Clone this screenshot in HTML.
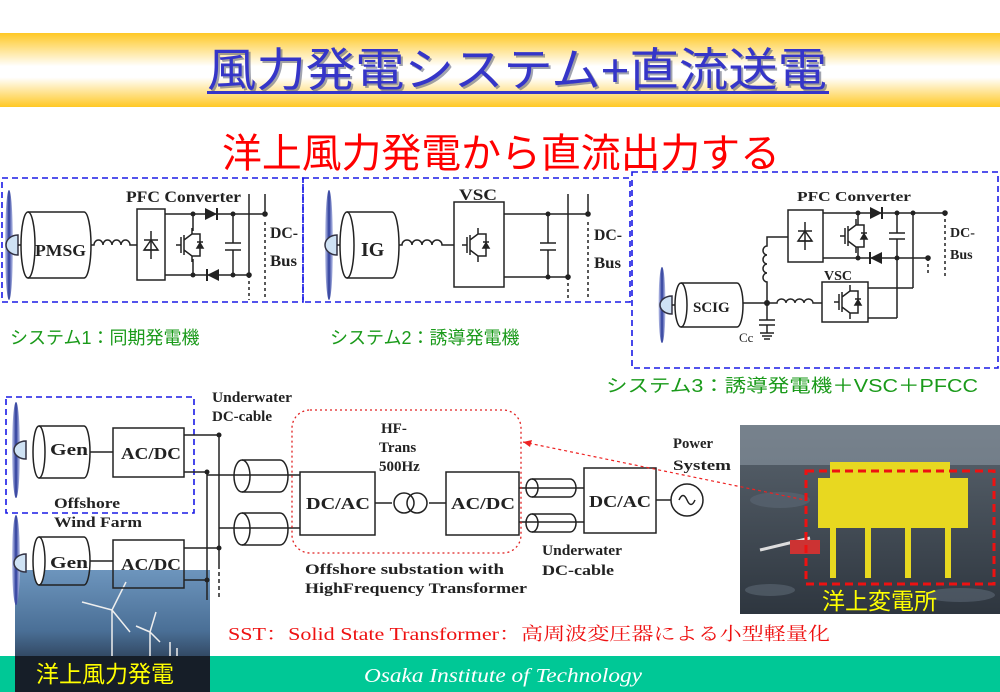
<!DOCTYPE html>
<html><head><meta charset="utf-8"><style>
html,body{margin:0;padding:0;background:#fff;}
svg{display:block;}
.s{font-family:"Liberation Serif",serif;font-weight:bold;fill:#222;}
.j{font-family:"Liberation Sans","Noto Sans CJK JP",sans-serif;}
</style></head><body>
<svg width="1000" height="692" viewBox="0 0 1000 692" xmlns="http://www.w3.org/2000/svg">
<defs>
<linearGradient id="hdr" x1="0" y1="0" x2="0" y2="1">
<stop offset="0" stop-color="#ffc824"/><stop offset="0.45" stop-color="#ffffff"/><stop offset="0.6" stop-color="#ffffff"/><stop offset="1" stop-color="#ffc824"/></linearGradient>
<linearGradient id="blade" x1="0" y1="0" x2="1" y2="0">
<stop offset="0" stop-color="#c8cff0"/><stop offset="0.5" stop-color="#2a3a9a"/><stop offset="1" stop-color="#c8cff0"/></linearGradient>
<linearGradient id="lp" x1="0" y1="0" x2="0" y2="1">
<stop offset="0" stop-color="#6d95bd"/><stop offset="0.5" stop-color="#4a6f96"/><stop offset="0.75" stop-color="#2e425a"/><stop offset="1" stop-color="#151d28"/></linearGradient>
<linearGradient id="rp" x1="0" y1="0" x2="0" y2="1">
<stop offset="0" stop-color="#5a646e"/><stop offset="1" stop-color="#2e363f"/></linearGradient>
<g id="igbt" fill="none" stroke="#222" stroke-width="1.5">
<path d="M-12 0h5M-7-8v16M-4-10v20M-4-5l8-6v-6M-4 5l8 6v6M4-11h8v22h-8"/>
<path d="M9 3h6l-3-5z" fill="#222"/><path d="M9-3h6"/>
</g>
<g id="dr"><path d="M-6-6L6 0L-6 6Z" fill="#222"/><path d="M6-6v12" stroke="#222" stroke-width="2"/></g>
<g id="dl"><path d="M6-6L-6 0L6 6Z" fill="#222"/><path d="M-6-6v12" stroke="#222" stroke-width="2"/></g>
<g id="rect"><path d="M0-14v28M-7 5h14M-7 -5h14" stroke="#222" stroke-width="1.5"/><path d="M-7 5L0-5L7 5Z" fill="none" stroke="#222" stroke-width="1.5"/></g>
</defs>

<rect x="0" y="33" width="1000" height="74" fill="url(#hdr)"/>
<text x="209" y="88" font-size="46" fill="#555a70" class="j" textLength="620" lengthAdjust="spacingAndGlyphs" opacity="0.55">風力発電システム+直流送電</text>
<text x="207" y="86" font-size="46" fill="#3535c8" class="j" textLength="620" lengthAdjust="spacingAndGlyphs">風力発電システム+直流送電</text>
<rect x="207" y="91" width="622" height="3" fill="#3535c8"/>

<text x="222" y="167" font-size="40" fill="#ff0000" class="j" textLength="558" lengthAdjust="spacingAndGlyphs">洋上風力発電から直流出力する</text>

<g fill="none" stroke="#1a1ae6" stroke-width="1.6" stroke-dasharray="6,4">
<rect x="2" y="178" width="301" height="124"/>
<rect x="303" y="178" width="327" height="124"/>
<rect x="632" y="172" width="366" height="196"/>
<rect x="6" y="397" width="188" height="116"/>
</g>

<g stroke="#222" stroke-width="1.5" fill="none">
<ellipse cx="9" cy="245" rx="4" ry="55" fill="url(#blade)" stroke="none"/>
<path d="M18 235a12 10 0 0 0 0 20z" fill="#cfe2f4" stroke="#334"/>
<path d="M18 245h10"/>
<ellipse cx="28" cy="245" rx="7" ry="33" fill="#fff"/>
<path d="M28 212H84A7 33 0 0 1 84 278H28"/>
<path d="M91 245h3a4.5 5 0 0 1 9 0a4.5 5 0 0 1 9 0a4.5 5 0 0 1 9 0a4.5 5 0 0 1 9 0h7"/>
<rect x="137" y="209" width="28" height="71"/>
<path d="M165 214H265M165 275H249M193 214v17M193 259v16M233 214v29M225 243h16M225 250h16M233 250v25M249 194v81M265 194v20"/>
<path d="M249 275v25M265 222v78" stroke-dasharray="3,3"/>
<ellipse cx="329" cy="245" rx="4" ry="55" fill="url(#blade)" stroke="none"/>
<path d="M337 235a12 10 0 0 0 0 20z" fill="#cfe2f4" stroke="#334"/>
<path d="M337 245h6"/>
<ellipse cx="347" cy="245" rx="7" ry="33" fill="#fff"/>
<path d="M347 212H392A7 33 0 0 1 392 278H347"/>
<path d="M399 245h3a5 5 0 0 1 10 0a5 5 0 0 1 10 0a5 5 0 0 1 10 0a5 5 0 0 1 10 0h12"/>
<rect x="454" y="202" width="50" height="85"/>
<path d="M504 214H588M504 277H568M548 214v29M540 243h16M540 250h16M548 250v27M568 194v83M588 194v20"/>
<path d="M568 277v23M588 222v78" stroke-dasharray="3,3"/>
<ellipse cx="662" cy="305" rx="3.5" ry="38" fill="url(#blade)" stroke="none"/>
<path d="M672 296a12 9 0 0 0 0 18z" fill="#cfe2f4" stroke="#334"/>
<path d="M672 305h8"/>
<ellipse cx="681" cy="305" rx="6" ry="22" fill="#fff"/>
<path d="M681 283H737A6 22 0 0 1 737 327H681"/>
<path d="M743 303H767M767 303V282a4 4.5 0 0 1 0-9a4 4.5 0 0 1 0-9a4 4.5 0 0 1 0-9a4 4.5 0 0 1 0-9V237H788"/>
<path d="M767 303h10a4.5 4 0 0 1 9 0a4.5 4 0 0 1 9 0a4.5 4 0 0 1 9 0a4.5 4 0 0 1 9 0h9"/>
<path d="M767 303v17M759 320h16M759 325h16M767 325v8M760 333h14M762 336h10M764 339h6"/>
<rect x="788" y="210" width="35" height="52"/>
<rect x="822" y="282" width="46" height="40"/>
<path d="M823 213H945M823 258H928M858 213v12M858 247v11M897 213v20M889 233h16M889 239h16M897 239v79M913 213v75M868 288H913M868 318H897"/>
<path d="M945 213v65M928 258v18" stroke-dasharray="3,3"/>
</g>
<g fill="#222">
<circle cx="193" cy="214" r="2.5"/><circle cx="233" cy="214" r="2.5"/><circle cx="265" cy="214" r="2.8"/>
<circle cx="193" cy="275" r="2.5"/><circle cx="233" cy="275" r="2.5"/><circle cx="249" cy="275" r="2.8"/>
<circle cx="548" cy="214" r="2.5"/><circle cx="588" cy="214" r="2.8"/><circle cx="548" cy="277" r="2.5"/><circle cx="568" cy="277" r="2.8"/>
<circle cx="767" cy="303" r="3"/><circle cx="858" cy="213" r="2.5"/><circle cx="897" cy="213" r="2.5"/><circle cx="913" cy="213" r="2.5"/><circle cx="945" cy="213" r="2.8"/>
<circle cx="858" cy="258" r="2.5"/><circle cx="897" cy="258" r="2.5"/><circle cx="928" cy="258" r="2.8"/>
</g>
<use href="#rect" x="151" y="245"/><use href="#igbt" x="188" y="245"/>
<use href="#dr" x="211" y="214"/><use href="#dl" x="213" y="275"/>
<use href="#igbt" x="474" y="245"/>
<use href="#rect" x="805" y="236"/><use href="#igbt" x="852" y="236"/>
<use href="#dr" x="876" y="213"/><use href="#dl" x="876" y="258"/>
<use href="#igbt" x="846" y="302"/>

<g class="s">
<text x="126" y="202" font-size="16" textLength="115" lengthAdjust="spacingAndGlyphs">PFC Converter</text>
<text x="35" y="256" font-size="17" textLength="51" lengthAdjust="spacingAndGlyphs">PMSG</text>
<text x="270" y="238" font-size="16" textLength="28" lengthAdjust="spacingAndGlyphs">DC-</text><text x="270" y="266" font-size="16" textLength="27" lengthAdjust="spacingAndGlyphs">Bus</text>
<text x="459" y="200" font-size="16" textLength="38" lengthAdjust="spacingAndGlyphs">VSC</text>
<text x="361" y="256" font-size="20">IG</text>
<text x="594" y="240" font-size="16" textLength="28" lengthAdjust="spacingAndGlyphs">DC-</text><text x="594" y="268" font-size="16" textLength="27" lengthAdjust="spacingAndGlyphs">Bus</text>
<text x="797" y="201" font-size="14" textLength="114" lengthAdjust="spacingAndGlyphs">PFC Converter</text>
<text x="824" y="280" font-size="14">VSC</text>
<text x="693" y="312" font-size="15">SCIG</text>
<text x="950" y="237" font-size="14">DC-</text><text x="950" y="259" font-size="14">Bus</text>
<text x="739" y="342" font-size="13" font-weight="normal">Cc</text>
</g>

<g class="j" font-size="18" fill="#1a9a1a">
<text x="10" y="344">システム1：同期発電機</text>
<text x="330" y="344">システム2：誘導発電機</text>
<text x="606" y="392" textLength="372" lengthAdjust="spacingAndGlyphs">システム3：誘導発電機＋VSC＋PFCC</text>
</g>

<rect x="15" y="570" width="195" height="122" fill="url(#lp)"/>
<g stroke="#eee" stroke-width="1.5"><path d="M112 610v75M112 610l-30-8M112 610l14-28M112 610l18 22M150 632v55M150 632l-14-6M150 632l6-20M150 632l10 10M170 642v40M177 648v30"/></g>

<g stroke="#222" stroke-width="1.5" fill="none">
<ellipse cx="16" cy="450" rx="4" ry="48" fill="url(#blade)" stroke="none"/>
<path d="M26 441a12 9 0 0 0 0 18z" fill="#cfe2f4" stroke="#334"/>
<ellipse cx="39" cy="452" rx="6" ry="26" fill="#fff"/>
<path d="M39 426H84A6 26 0 0 1 84 478H39"/>
<path d="M90 452H113"/>
<rect x="113" y="428" width="71" height="49"/>
<ellipse cx="16" cy="560" rx="4" ry="45" fill="url(#blade)" stroke="none"/>
<path d="M26 554a12 9 0 0 0 0 18z" fill="#cfe2f4" stroke="#334"/>
<ellipse cx="39" cy="561" rx="6" ry="24" fill="#fff"/>
<path d="M39 537H84A6 24 0 0 1 84 585H39"/>
<path d="M90 561H113"/>
<rect x="113" y="540" width="71" height="48"/>
<path d="M184 435H219M184 472H207M184 548H219M184 580H207M219 435V565M207 472V600M207 475H300M219 528H300"/>
<path d="M219 565v35" stroke-dasharray="4,3"/>
<path d="M242 460H280A8 16 0 0 1 280 492H242"/><ellipse cx="242" cy="476" rx="8" ry="16"/>
<path d="M242 513H280A8 16 0 0 1 280 545H242"/><ellipse cx="242" cy="529" rx="8" ry="16"/>
<rect x="300" y="472" width="75" height="63"/>
<rect x="446" y="472" width="73" height="63"/>
<path d="M375 503H392M429 503H446"/>
<circle cx="404" cy="503" r="10"/><circle cx="417" cy="503" r="10"/>
<path d="M519 488H584M519 522H584"/>
<path d="M532 479H570A6 9 0 0 1 570 497H532"/><ellipse cx="532" cy="488" rx="6" ry="9"/>
<path d="M532 514H570A6 9 0 0 1 570 532H532"/><ellipse cx="532" cy="523" rx="6" ry="9"/>
<rect x="584" y="468" width="72" height="65"/>
<path d="M656 500H671"/><circle cx="687" cy="500" r="16"/>
<path d="M679 500q4-9 8 0t8 0"/>
</g>
<g fill="#222"><circle cx="219" cy="435" r="2.5"/><circle cx="207" cy="472" r="2.5"/><circle cx="219" cy="548" r="2.5"/><circle cx="207" cy="580" r="2.5"/></g>
<rect x="292" y="410" width="229" height="143" rx="18" fill="none" stroke="#e02020" stroke-width="1.3" stroke-dasharray="2,3"/>

<rect x="740" y="425" width="260" height="189" fill="url(#rp)"/>
<rect x="740" y="425" width="260" height="40" fill="#8a96a2" opacity="0.6"/>
<g fill="#5c6874" opacity="0.6"><ellipse cx="780" cy="500" rx="30" ry="8"/><ellipse cx="960" cy="595" rx="35" ry="7"/><ellipse cx="770" cy="590" rx="25" ry="6"/></g>
<g fill="#e8d820">
<rect x="818" y="478" width="150" height="50"/><rect x="830" y="462" width="120" height="18"/>
<rect x="830" y="528" width="6" height="50"/><rect x="865" y="528" width="6" height="50"/><rect x="905" y="528" width="6" height="50"/><rect x="945" y="528" width="6" height="50"/>
</g>
<path d="M760 550l50-12" stroke="#ddd" stroke-width="3"/><rect x="790" y="540" width="30" height="14" fill="#c33"/>
<rect x="806" y="471" width="188" height="113" fill="none" stroke="#ee1111" stroke-width="3" stroke-dasharray="8,5"/>
<path d="M523 442L805 500" stroke="#ee2222" stroke-width="1.2" stroke-dasharray="3,3" fill="none"/>
<path d="M523 442l9 -2l-2 7z" fill="#ee2222"/>
<text x="822" y="609" class="j" font-size="23" fill="#ffff00">洋上変電所</text>

<g class="s">
<text x="212" y="402" font-size="15" textLength="80" lengthAdjust="spacingAndGlyphs">Underwater</text><text x="212" y="421" font-size="15" textLength="60" lengthAdjust="spacingAndGlyphs">DC-cable</text>
<text x="50" y="455" font-size="17" textLength="38" lengthAdjust="spacingAndGlyphs">Gen</text>
<text x="121" y="459" font-size="17" textLength="60" lengthAdjust="spacingAndGlyphs">AC/DC</text>
<text x="50" y="568" font-size="17" textLength="38" lengthAdjust="spacingAndGlyphs">Gen</text>
<text x="121" y="570" font-size="17" textLength="60" lengthAdjust="spacingAndGlyphs">AC/DC</text>
<text x="54" y="508" font-size="15" textLength="66" lengthAdjust="spacingAndGlyphs">Offshore</text><text x="54" y="527" font-size="15" textLength="88" lengthAdjust="spacingAndGlyphs">Wind Farm</text>
<text x="381" y="433" font-size="15">HF-</text><text x="379" y="452" font-size="15">Trans</text><text x="379" y="471" font-size="15">500Hz</text>
<text x="306" y="509" font-size="17" textLength="64" lengthAdjust="spacingAndGlyphs">DC/AC</text>
<text x="451" y="509" font-size="17" textLength="64" lengthAdjust="spacingAndGlyphs">AC/DC</text>
<text x="589" y="507" font-size="17" textLength="62" lengthAdjust="spacingAndGlyphs">DC/AC</text>
<text x="673" y="448" font-size="15" textLength="40" lengthAdjust="spacingAndGlyphs">Power</text><text x="673" y="470" font-size="15" textLength="58" lengthAdjust="spacingAndGlyphs">System</text>
<text x="305" y="574" font-size="15" textLength="199" lengthAdjust="spacingAndGlyphs">Offshore substation with</text>
<text x="305" y="593" font-size="15" textLength="222" lengthAdjust="spacingAndGlyphs">HighFrequency Transformer</text>
<text x="542" y="555" font-size="15" textLength="80" lengthAdjust="spacingAndGlyphs">Underwater</text><text x="542" y="575" font-size="15" textLength="72" lengthAdjust="spacingAndGlyphs">DC-cable</text>
</g>

<text x="228" y="640" font-size="18" fill="#ee1111" font-family="Liberation Serif, Noto Serif CJK SC, serif" textLength="602" lengthAdjust="spacingAndGlyphs">SST：Solid State Transformer：高周波変圧器による小型軽量化</text>

<rect x="0" y="656" width="1000" height="36" fill="#00c896"/>
<rect x="15" y="656" width="195" height="36" fill="#161e28"/>
<text x="364" y="682" font-size="20" font-style="italic" fill="#fff" font-family="Liberation Serif, serif" textLength="278" lengthAdjust="spacingAndGlyphs">Osaka Institute of Technology</text>
<text x="36" y="682" class="j" font-size="23" fill="#ffff00">洋上風力発電</text>
</svg>
</body></html>
